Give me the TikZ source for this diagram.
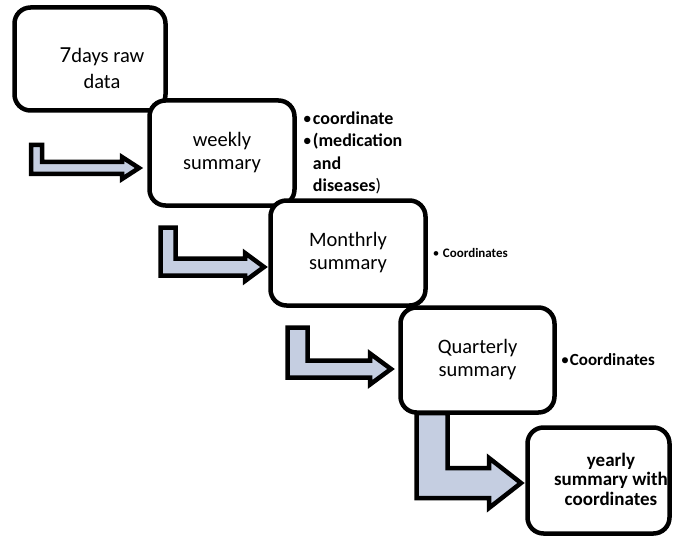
\documentclass[tikz,border=0pt]{standalone}
\usepackage{fontspec}
\setmainfont{Carlito}
\usetikzlibrary{positioning, calc}
\definecolor{ink}{HTML}{000000}
\definecolor{arrowfill}{HTML}{C5CEE1}
\newcommand{\BoxF}{\fontsize{20.5}{23}\selectfont}
\newcommand{\NoteF}{\fontsize{18}{22.5}\selectfont\bfseries}
\newcommand{\dotb}[1]{\makebox[#1][l]{\mdseries•}}
\newcommand{\bentarrow}[8]{%
  % left, right, top, tip x, tip y, bar half, head base, head half
  \draw[bent] (#1,#3) -- (#2,#3) -- (#2,#5-#6) -- (#7,#5-#6) -- (#7,#5-#8)
    -- (#4,#5) -- (#7,#5+#8) -- (#7,#5+#6) -- (#1,#5+#6) -- cycle;
}
\tikzset{
  stage/.style={draw=ink, line width=4.5pt, rounded corners=16pt, fill=white,
    align=center, font=\BoxF, inner sep=0pt},
  bent/.style={draw=ink, line width=4.5pt, fill=arrowfill, line join=miter},
  note/.style={align=left, inner sep=0pt, text=ink}
}

\begin{document}
\begin{tikzpicture}[x=1pt,y=-1pt]
\useasboundingbox (0,0) rectangle (674,540);
% block arrows
\bentarrow{31}{42}{145}{139}{168}{6}{122}{11}
\bentarrow{160.5}{175.5}{227.5}{264}{267}{8.5}{245}{14}
\bentarrow{287.5}{307.5}{327.5}{391}{369}{8.5}{370}{15.5}
\bentarrow{416.5}{447.5}{413}{521}{483}{15}{489}{25}
% stages
\node[stage, minimum width=151pt, minimum height=103pt] (raw) at (90,59) {};
\node[font=\fontsize{20.5}{26}\selectfont, align=center] (rawtext) at (102,68)
  {{\fontsize{23}{23}\selectfont 7}days raw\\data};
\node[stage, minimum width=145pt, minimum height=105pt] (weekly) at (222,153) {weekly\\summary};
\node[stage, minimum width=155pt, minimum height=105pt] (monthly) at (348,253) {Monthrly\\summary};
\node[stage, minimum width=154pt, minimum height=105pt] (quarterly) at (477.5,360) {Quarterly\\summary};
\node[stage, minimum width=142pt, minimum height=106pt] (yearly) at (598.5,480.5) {};
\node[font=\fontsize{19}{19.5}\selectfont\bfseries, align=center] (yearlytext) at (611,479)
  {yearly\\summary with\\coordinates};
% notes
\node[note, font=\NoteF, right=6pt of weekly] (weeklynote)
  {\dotb{10pt}coordinate\\
   \dotb{10pt}(medication\\
   \hspace*{10pt}and\\
   \hspace*{10pt}diseases{\mdseries)}};
\node[note, font=\fontsize{13}{15}\selectfont\bfseries, right=5pt of monthly] (monthlynote)
  {\dotb{10pt}Coordinates};
\node[note, font=\fontsize{17}{20}\selectfont\bfseries, right=4pt of quarterly] (quarterlynote)
  {\dotb{9pt}Coordinates};
\end{tikzpicture}
\end{document}
